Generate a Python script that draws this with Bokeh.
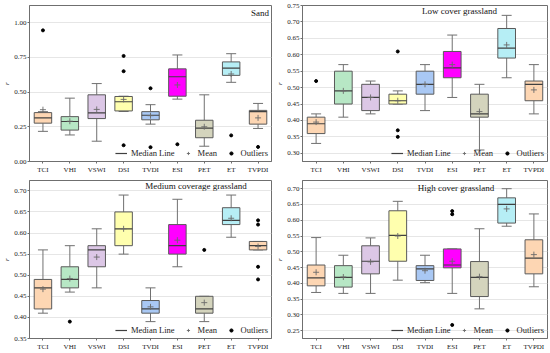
from bokeh.plotting import figure
from bokeh.layouts import column, row
from bokeh.models import (FactorRange, Range1d, FixedTicker, NumeralTickFormatter,
                          Legend, LegendItem, Label)
from bokeh.embed import file_html
from bokeh.resources import INLINE

cats = ["TCI", "VHI", "VSWI", "DSI", "TVDI", "ESI", "PET", "ET", "TVPDI"]
fill_colors = ["#FDD6B3", "#B7E7C5", "#DCC7E6", "#FFFFAE", "#A9C8F4",
               "#FF00FF", "#D4D4BD", "#B6EEF5", "#FDD6B3"]

# Sand
sand_lower = [0.217, 0.191, 0.146, 0.36, 0.269, 0.449, 0.11, 0.57, 0.238]
sand_q1 = [0.276, 0.226, 0.309, 0.364, 0.30, 0.47, 0.171, 0.62, 0.269]
sand_median = [0.314, 0.288, 0.35, 0.43, 0.333, 0.61, 0.24, 0.672, 0.359]
sand_q3 = [0.352, 0.323, 0.48, 0.468, 0.359, 0.667, 0.297, 0.717, 0.368]
sand_upper = [0.359, 0.456, 0.561, 0.47, 0.409, 0.767, 0.48, 0.776, 0.418]
sand_mean = [0.373, 0.29, 0.375, 0.447, 0.33, 0.551, 0.25, 0.63, 0.314]
sand_out_cat = ["TCI", "DSI", "DSI", "DSI", "TVDI", "TVDI", "ESI", "ET", "TVPDI"]
sand_out_val = [0.944, 0.76, 0.65, 0.117, 0.527, 0.103, 0.124, 0.188, 0.105]
sand_ticks = [0.0, 0.25, 0.5, 0.75, 1.0]

# Low cover grassland
low_lower = [0.33, 0.41, 0.42, 0.45, 0.43, 0.47, 0.31, 0.53, 0.42]
low_q1 = [0.36, 0.45, 0.43, 0.45, 0.48, 0.53, 0.41, 0.59, 0.46]
low_median = [0.39, 0.49, 0.47, 0.46, 0.51, 0.56, 0.42, 0.62, 0.51]
low_q3 = [0.41, 0.55, 0.51, 0.48, 0.55, 0.61, 0.48, 0.68, 0.52]
low_upper = [0.42, 0.57, 0.52, 0.49, 0.57, 0.66, 0.51, 0.72, 0.57]
low_mean = [0.395, 0.49, 0.47, 0.46, 0.51, 0.57, 0.427, 0.63, 0.493]
low_out_cat = ["TCI", "DSI", "DSI", "DSI"]
low_out_val = [0.52, 0.61, 0.37, 0.35]
low_ticks = [0.30, 0.35, 0.40, 0.45, 0.50, 0.55, 0.60, 0.65, 0.70, 0.75]

# Medium coverage grassland
med_lower = [0.41, 0.46, 0.47, 0.55, 0.39, 0.52, 0.39, 0.59, 0.56]
med_q1 = [0.42, 0.47, 0.52, 0.57, 0.41, 0.55, 0.41, 0.62, 0.56]
med_median = [0.47, 0.49, 0.56, 0.61, 0.42, 0.57, 0.42, 0.63, 0.57]
med_q3 = [0.49, 0.52, 0.57, 0.65, 0.44, 0.62, 0.45, 0.66, 0.58]
med_upper = [0.56, 0.57, 0.61, 0.69, 0.47, 0.68, 0.45, 0.69, 0.58]
med_mean = [0.467, 0.492, 0.543, 0.61, 0.425, 0.583, 0.435, 0.635, 0.568]
med_out_cat = ["VHI", "PET", "TVPDI", "TVPDI", "TVPDI", "TVPDI"]
med_out_val = [0.39, 0.56, 0.63, 0.62, 0.52, 0.49]
med_ticks = [0.35, 0.40, 0.45, 0.50, 0.55, 0.60, 0.65, 0.70]

# High cover grassland
high_lower = [0.371, 0.368, 0.368, 0.41, 0.402, 0.368, 0.319, 0.581, 0.389]
high_q1 = [0.392, 0.388, 0.43, 0.47, 0.409, 0.449, 0.358, 0.591, 0.43]
high_median = [0.417, 0.419, 0.47, 0.552, 0.446, 0.458, 0.419, 0.65, 0.48]
high_q3 = [0.458, 0.456, 0.519, 0.63, 0.456, 0.509, 0.469, 0.671, 0.538]
high_upper = [0.545, 0.489, 0.544, 0.66, 0.489, 0.509, 0.573, 0.70, 0.62]
high_mean = [0.435, 0.42, 0.468, 0.55, 0.44, 0.47, 0.421, 0.636, 0.491]
high_out_cat = ["ESI", "ESI", "ESI"]
high_out_val = [0.629, 0.619, 0.268]
high_ticks = [0.25, 0.30, 0.35, 0.40, 0.45, 0.50, 0.55, 0.60, 0.65, 0.70]

FONT = "Liberation Serif"
FRAME_COL = "#6f6f6f"


def panel(title, lower, q1, median, q3, upper, mean, out_cat, out_val, ticks,
          y0, y1, width, height, bl, br, bt, bb, title_dx, title_dy):
    p = figure(x_range=FactorRange(*cats), y_range=Range1d(y0, y1),
               width=width, height=height, output_backend="svg",
               toolbar_location=None, min_border_left=bl, min_border_right=br,
               min_border_top=bt, min_border_bottom=bb)
    p.outline_line_color = FRAME_COL
    p.outline_line_width = 1
    p.xgrid.grid_line_color = None
    p.ygrid.grid_line_color = "#e6e6e6"
    p.ygrid.ticker = FixedTicker(ticks=ticks)
    p.yaxis.ticker = FixedTicker(ticks=ticks)
    p.yaxis.formatter = NumeralTickFormatter(format="0.00")
    for ax in (p.xaxis[0], p.yaxis[0]):
        ax.axis_line_color = FRAME_COL
        ax.major_tick_line_color = FRAME_COL
        ax.major_tick_out = 2
        ax.major_tick_in = 0
        ax.minor_tick_line_color = None
        ax.major_label_text_font = FONT
        ax.major_label_text_font_size = "7px"
        ax.major_label_text_color = "#222222"
        ax.major_label_standoff = 2
    p.yaxis.major_label_standoff = 1
    p.yaxis.axis_label = "r"
    p.yaxis.axis_label_text_font = FONT
    p.yaxis.axis_label_text_font_style = "italic"
    p.yaxis.axis_label_text_font_size = "7px"
    p.yaxis.axis_label_text_color = "#222222"
    p.yaxis.axis_label_standoff = 0

    # whiskers
    p.segment(x0=cats, y0=q3, x1=cats, y1=upper, line_color="#707070", line_width=1)
    p.segment(x0=cats, y0=q1, x1=cats, y1=lower, line_color="#707070", line_width=1)
    p.scatter(x=cats, y=upper, marker="dash", size=10, line_color="#707070", line_width=1)
    p.scatter(x=cats, y=lower, marker="dash", size=10, line_color="#707070", line_width=1)
    # boxes
    p.vbar(x=cats, top=q3, bottom=q1, width=0.65, fill_color=fill_colors,
           line_color="#5a5a5a", line_width=1)
    # medians
    med_r = p.segment(x0=[(c, -0.325) for c in cats], y0=median,
                      x1=[(c, 0.325) for c in cats], y1=median,
                      line_color="#404040", line_width=1.2)
    mean_r = p.scatter(x=cats, y=mean, marker="cross", size=6,
                       line_color="#6a6a6a", line_width=0.9)
    out_r = p.scatter(x=out_cat, y=out_val, marker="circle", size=3,
                      fill_color="black", line_color="black")

    legend = Legend(items=[LegendItem(label="Median Line", renderers=[med_r]),
                           LegendItem(label="Mean", renderers=[mean_r]),
                           LegendItem(label="Outliers", renderers=[out_r])],
                    orientation="horizontal", location="bottom_right",
                    background_fill_alpha=0, border_line_alpha=0,
                    label_text_font=FONT, label_text_font_size="8.5px",
                    label_text_color="#222222",
                    glyph_width=12, glyph_height=8, label_standoff=4,
                    spacing=7, padding=1, margin=2, label_height=8)
    p.add_layout(legend)

    fh = height - bt - bb
    p.add_layout(Label(x=title_dx, y=fh - title_dy, x_units="screen", y_units="screen",
                       text=title, text_font=FONT, text_font_size="9px",
                       text_align="center", text_baseline="middle",
                       text_color="#111111"))
    return p


p1 = panel("Sand", sand_lower, sand_q1, sand_median, sand_q3, sand_upper, sand_mean,
           sand_out_cat, sand_out_val, sand_ticks, 0.0, 1.123,
           273, 176, 25, 2, 5, 13, 230.5, 9)
p2 = panel("Low cover grassland", low_lower, low_q1, low_median, low_q3, low_upper, low_mean,
           low_out_cat, low_out_val, low_ticks, 0.275, 0.75,
           277, 176, 29, 3, 5, 13, 157, 7)
p3 = panel("Medium coverage grassland", med_lower, med_q1, med_median, med_q3, med_upper, med_mean,
           med_out_cat, med_out_val, med_ticks, 0.35, 0.7245,
           273, 177, 25, 2, 4, 15, 166.5, 5)
p4 = panel("High cover grassland", high_lower, high_q1, high_median, high_q3, high_upper, high_mean,
           high_out_cat, high_out_val, high_ticks, 0.225, 0.726,
           277, 177, 29, 3, 4, 15, 153.5, 7)

layout = column(row(p1, p2, spacing=0), row(p3, p4, spacing=0), spacing=0)

open("out.html", "w").write(file_html(layout, INLINE))
